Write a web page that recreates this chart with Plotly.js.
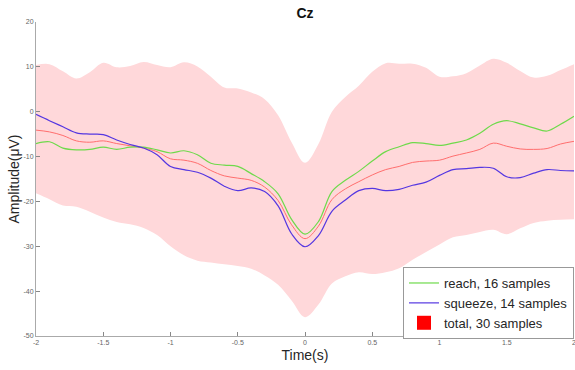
<!DOCTYPE html>
<html>
<head>
<meta charset="utf-8">
<script src="https://cdn.plot.ly/plotly-3.0.1.min.js"></script>
<style>html,body{margin:0;padding:0;background:#fff;}#chart{width:575px;height:370px;}</style>
</head>
<body>
<div id="chart"></div>
<script>
const time = [-2.0,-1.9,-1.8,-1.7,-1.6,-1.5,-1.4,-1.3,-1.2,-1.1,-1.0,-0.9,-0.8,-0.7,-0.6,-0.5,-0.4,-0.3,-0.2,-0.1,0.0,0.1,0.2,0.3,0.4,0.5,0.6,0.7,0.8,0.9,1.0,1.1,1.2,1.3,1.4,1.5,1.6,1.7,1.8,1.9,2.0];

const reach = [-7.1,-6.7,-8.1,-8.5,-8.4,-7.9,-8.4,-7.9,-7.9,-8.5,-9.2,-8.7,-9.6,-11.5,-11.9,-12.2,-13.8,-15.6,-18.3,-24.0,-27.3,-24.5,-17.8,-15.3,-13.3,-11.0,-8.9,-7.8,-6.9,-7.1,-7.5,-7.0,-6.3,-4.8,-2.8,-2.0,-2.7,-3.6,-4.3,-2.8,-1.0];

const squeeze = [-0.6,-2.0,-3.35,-4.7,-5.0,-5.1,-6.3,-7.3,-8.1,-9.6,-12.2,-12.9,-13.5,-14.8,-16.6,-17.6,-17.0,-17.8,-21.0,-27.2,-30.1,-27.6,-22.2,-19.7,-17.6,-17.1,-17.6,-17.3,-16.4,-15.7,-14.2,-12.9,-12.7,-12.4,-12.6,-14.5,-14.7,-13.7,-12.9,-13.1,-13.2];

const total = [-4.1,-4.5,-5.3,-6.5,-6.8,-6.5,-7.1,-7.6,-8.1,-8.9,-10.5,-10.8,-11.5,-13.1,-14.3,-14.8,-15.3,-16.8,-19.8,-25.2,-28.3,-25.5,-19.6,-17.2,-15.6,-14.1,-12.9,-12.2,-11.3,-11.0,-10.8,-9.9,-9.2,-8.4,-7.0,-7.7,-8.3,-8.4,-8.2,-7.2,-6.6];

const totalUpper = [10.4,10.6,9.0,7.4,8.8,10.9,9.9,10.2,11.1,10.4,9.9,11.0,10.1,7.8,5.4,5.2,4.3,2.8,-0.8,-6.8,-11.4,-7.2,0.0,3.3,5.8,8.9,10.8,10.7,10.7,9.8,7.8,7.9,8.6,10.3,11.8,10.9,9.1,7.6,8.0,9.3,10.6];

const totalLower = [-18.2,-19.5,-20.9,-21.2,-22.3,-23.6,-24.6,-25.1,-25.9,-27.5,-30.0,-32.0,-33.2,-33.6,-34.0,-34.4,-35.0,-36.5,-38.6,-42.1,-45.8,-43.0,-38.3,-36.7,-35.8,-36.2,-35.8,-34.9,-33.0,-31.3,-29.6,-28.0,-27.5,-26.8,-26.3,-27.3,-26.0,-24.8,-24.3,-24.1,-24.0];

const seriesNames = ['reach, 16 samples','squeeze, 14 samples','total, 30 samples'];
const xTickVals = [-2,-1.5,-1,-0.5,0,0.5,1,1.5,2];
const xTickText = ['-2','-1.5','-1','-0.5','0','0.5','1','1.5','2'];
const yTickVals = [-50,-40,-30,-20,-10,0,10,20];
const yTickText = ['-50','-40','-30','-20','-10','0','10','20'];

const FONT = 'Liberation Sans, Arial, Helvetica, sans-serif';

const traces = [
  {x: time, y: totalUpper, mode:'lines', line:{width:0, shape:'spline', smoothing:1}, hoverinfo:'skip', showlegend:false},
  {x: time, y: totalLower, mode:'lines', line:{width:0, shape:'spline', smoothing:1}, fill:'tonexty', fillcolor:'rgb(255,216,218)', showlegend:false},
  {x: time, y: total, mode:'lines', line:{color:'rgb(255,110,110)', width:1, shape:'spline', smoothing:1}, showlegend:false},
  {x: time, y: reach, mode:'lines', name: seriesNames[0], line:{color:'rgb(110,218,75)', width:1.2, shape:'spline', smoothing:1}, legendrank:1},
  {x: time, y: squeeze, mode:'lines', name: seriesNames[1], line:{color:'rgb(85,55,225)', width:1.2, shape:'spline', smoothing:1}, legendrank:2},
  {x: [null], y: [null], mode:'markers', name: seriesNames[2], marker:{symbol:'square', size:14, color:'rgb(255,0,0)', line:{width:0}}, legendrank:3}
];

const layout = {
  width: 575, height: 370,
  margin: {l:36, r:1, t:22, b:34},
  paper_bgcolor:'#fff', plot_bgcolor:'#fff',
  font: {family: FONT, color:'#262626'},
  title: {text:'<b>Cz</b>', font:{size:14, family: FONT, color:'#111'}, xref:'paper', x:0.5, xanchor:'center', yref:'container', y:0.965, yanchor:'middle'},
  xaxis: {
    range:[-2,2], tickvals:xTickVals, ticktext:xTickText, automargin:false, ticklabeloverflow:'allow',
    ticks:'inside', ticklen:4, tickcolor:'#888', tickwidth:1,
    showline:true, linecolor:'#aaa', linewidth:1, mirror:false,
    showgrid:false, zeroline:false,
    tickfont:{size:7, color:'#666', family: FONT},
    title:{text:'Time(s)', font:{size:14, family: FONT, color:'#262626'}, standoff:4}
  },
  yaxis: {
    range:[-50,20], tickvals:yTickVals, ticktext:yTickText, automargin:false,
    ticks:'inside', ticklen:4, tickcolor:'#888', tickwidth:1,
    showline:true, linecolor:'#aaa', linewidth:1, mirror:false,
    showgrid:false, zeroline:false,
    tickfont:{size:7, color:'#666', family: FONT},
    title:{text:'Amplitude(μV)', font:{size:14, family: FONT, color:'#262626'}, standoff:0}
  },
  legend: {
    x:1, y:0.105, xanchor:'right', yanchor:'middle',
    bgcolor:'#fff', bordercolor:'#999', borderwidth:1,
    font:{size:13, family: FONT, color:'#262626'},
    traceorder:'normal', itemwidth:30, tracegroupgap:0
  },
  showlegend:true
};

Plotly.newPlot('chart', traces, layout, {displayModeBar:false, staticPlot:true});
</script>
</body>
</html>
